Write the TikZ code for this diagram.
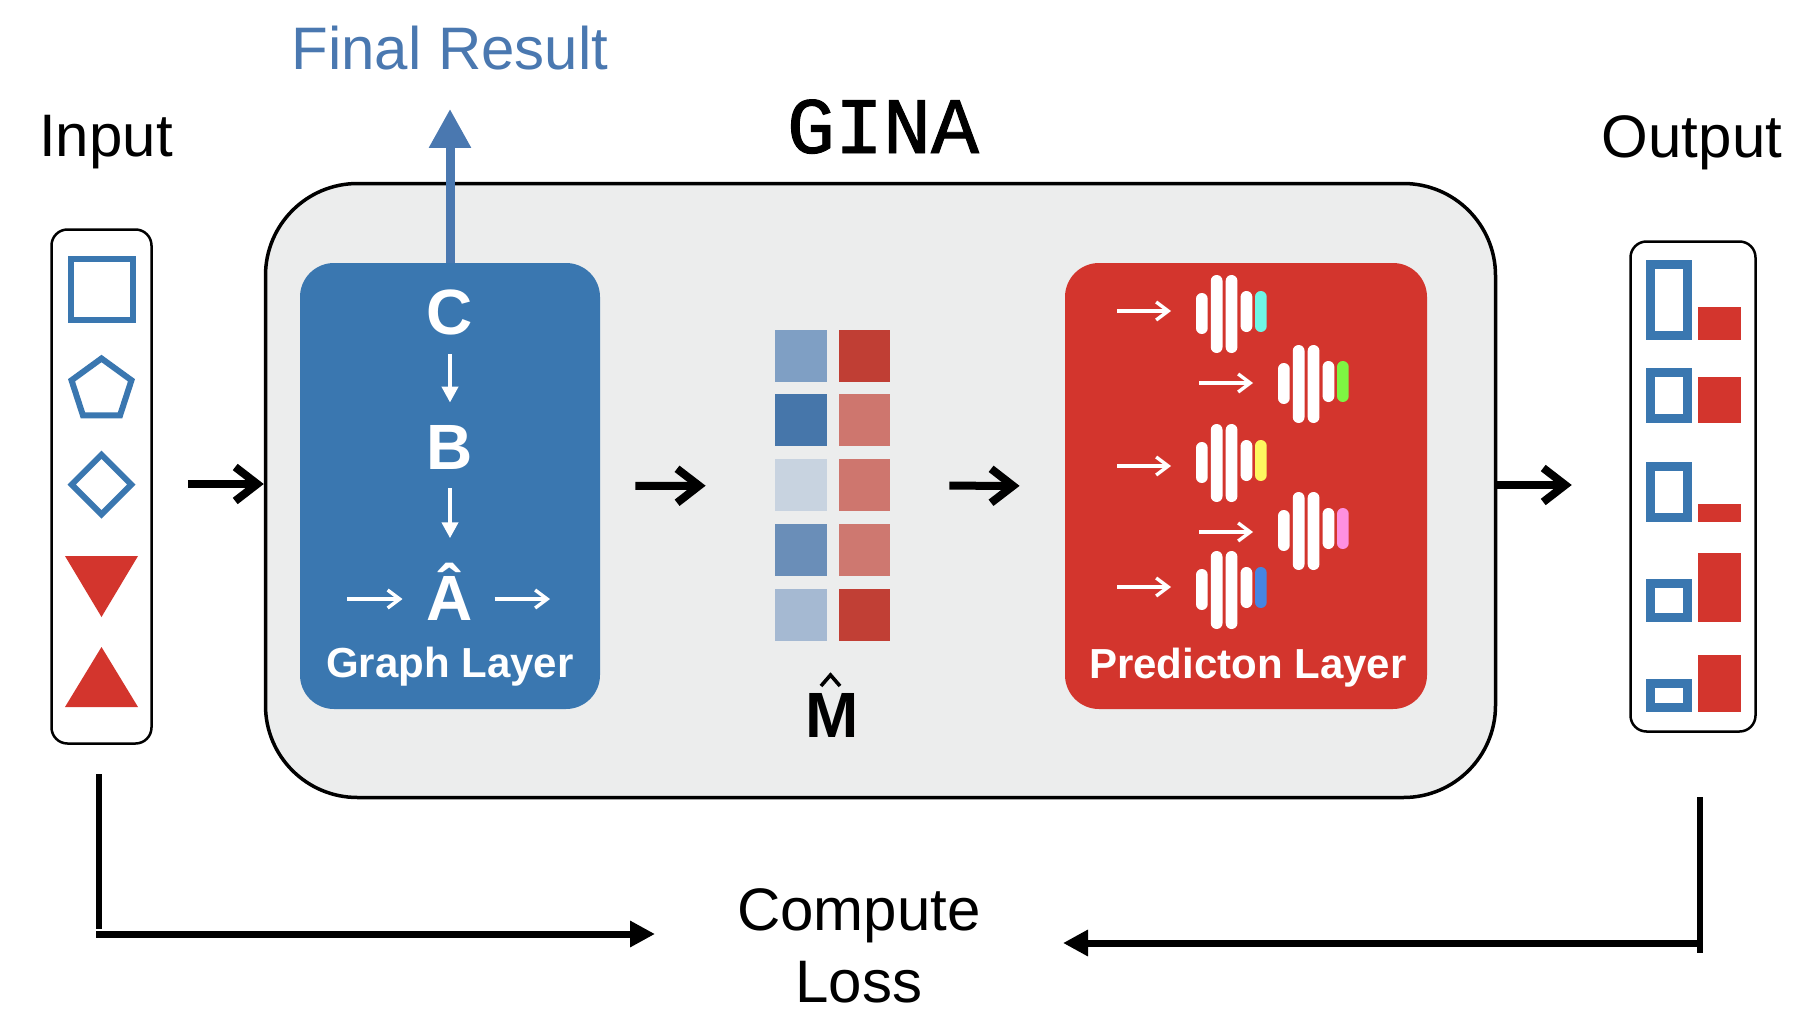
\documentclass[tikz,border=0pt]{standalone}
\usepackage{fontspec}
\setmainfont{Liberation Sans}
\newfontfamily\gmono[FakeBold=1.2]{Liberation Mono}
\usetikzlibrary{arrows.meta,shapes.geometric}
\definecolor{gboxfill}{HTML}{ECEDED}
\definecolor{glblue}{HTML}{3A77B0}
\definecolor{plred}{HTML}{D3352D}
\definecolor{frblue}{HTML}{4A78B0}
\definecolor{ma}{HTML}{7F9FC4}\definecolor{mb}{HTML}{C03E34}
\definecolor{mc}{HTML}{4676AA}\definecolor{md}{HTML}{CE766E}
\definecolor{me}{HTML}{C8D3E0}\definecolor{mf}{HTML}{CE766E}
\definecolor{mg}{HTML}{6A8EB8}\definecolor{mh}{HTML}{CE7870}
\definecolor{mi}{HTML}{A5B9D2}\definecolor{mj}{HTML}{C13F35}
\definecolor{ncyan}{HTML}{6FF5E5}\definecolor{ngreen}{HTML}{7EF542}
\definecolor{nyellow}{HTML}{FEF75F}\definecolor{npink}{HTML}{FE90E0}
\definecolor{nblue}{HTML}{4685E1}
\newcommand\fsz[1]{\fontsize{#1}{#1}\selectfont}
\newcommand\NeuronGroup[3]{%
 \fill[white,rounded corners=2.9pt] (#1,#2-21) rectangle (#1+11.7,#2+20);
 \fill[white,rounded corners=2.9pt] (#1+14.8,#2-39) rectangle (#1+26.5,#2+39);
 \fill[white,rounded corners=2.9pt] (#1+29.7,#2-39) rectangle (#1+41.4,#2+39);
 \fill[white,rounded corners=2.9pt] (#1+44.6,#2-23) rectangle (#1+56.3,#2+18);
 \fill[#3,rounded corners=2.9pt] (#1+59,#2-23) rectangle (#1+70.7,#2+18);
}
\tikzset{
 lbl/.style={inner sep=0pt, anchor=base},
 blackarrow/.style={line width=4pt, -{Straight Barb[length=11pt,width=17pt]}},
 whitearrow/.style={white, line width=1.7pt, -{Straight Barb[length=6pt,width=9pt]}},
 whitedown/.style={white, line width=2pt, -{Triangle[length=8pt,width=8pt]}},
 lossv/.style={line width=2.6pt},
 lossh/.style={line width=3.5pt, -{Triangle[length=12.5pt,width=12.5pt]}},
 outsq/.style={draw=glblue, line width=4.5pt},
}
\begin{document}
\begin{tikzpicture}[x=0.5pt,y=-0.5pt]
\useasboundingbox[fill=white] (0,0) rectangle (1816,1033);

% main box
\node[draw, line width=1.75pt, fill=gboxfill, rounded corners=46pt, inner sep=0,
      minimum width=615pt, minimum height=307pt] (gina) at (880.5,490.5) {};
% layers
\node[fill=glblue, rounded corners=17pt, inner sep=0, minimum width=150pt, minimum height=223pt] (glayer) at (450,486) {};
\node[fill=plred, rounded corners=17pt, inner sep=0, minimum width=181pt, minimum height=223pt] (player) at (1246,486) {};
% input / output boxes
\node[draw, line width=1.25pt, fill=white, rounded corners=8pt, inner sep=0, minimum width=50pt, minimum height=257pt] (inbox) at (101.5,486.5) {};
\node[draw, line width=1.25pt, fill=white, rounded corners=8pt, inner sep=0, minimum width=62.5pt, minimum height=245pt] (outbox) at (1693,486.5) {};

% titles
\node[lbl, font=\fsz{30}, text=frblue] (final) at (450,69) {Final Result};
\node[lbl, font=\fsz{30}] (input) at (106,156) {Input};
\node[lbl, font=\gmono\fsz{40}] (ginat) at (883,153) {GINA};
\node[lbl, font=\fsz{30}] (output) at (1692,157) {Output};

% final result arrow
\draw[frblue, line width=4.5pt, shorten >=19.5pt, -{Triangle[length=19.5pt,width=20pt]}] (glayer.north) -- (final.south);

% input shapes
\draw[glblue, line width=3pt] (71,259) rectangle (133,320);
\node[regular polygon, regular polygon sides=5, draw=glblue, line width=3pt, minimum size=31.5pt, inner sep=0] (pent) at (101.5,390) {};
\node[diamond, aspect=1, draw=glblue, line width=3pt, minimum width=31pt, minimum height=31pt, inner sep=0] (diam) at (101.5,484.5) {};
\fill[plred] (65,556) -- (138,556) -- (101.5,617) -- cycle;
\fill[plred] (65,707) -- (138,707) -- (101.5,647) -- cycle;

% output items
\draw[outsq] (1650.5,264.5) rectangle (1687.5,335.5);
\draw[outsq] (1650.5,372.5) rectangle (1687.5,418.5);
\draw[outsq] (1650.5,466.5) rectangle (1687.5,517.5);
\draw[outsq] (1650.5,583.5) rectangle (1687.5,617.5);
\draw[outsq] (1650.5,683.5) rectangle (1687.5,707.5);
\fill[plred] (1698,307) rectangle (1741,340);
\fill[plred] (1698,377) rectangle (1741,423);
\fill[plred] (1698,504) rectangle (1741,522);
\fill[plred] (1698,553) rectangle (1741,622);
\fill[plred] (1698,655) rectangle (1741,712);

% graph layer content
\node[lbl, font=\bfseries\fsz{32}, text=white] (C) at (450,334) {C};
\node[lbl, font=\bfseries\fsz{32}, text=white] (B) at (450,469) {B};
\node[lbl, font=\bfseries\fsz{32}, text=white] (Ah) at (450,620) {Â};
\node[lbl, font=\bfseries\fsz{21}, text=white] (gl) at (450,677) {Graph Layer};
\draw[whitedown, shorten <=9.5pt, shorten >=11pt] (C.south) -- (B.north);
\draw[whitedown, shorten <=9.5pt, shorten >=12pt] (B.south) -- (B.south |- Ah.north);
\coordinate (gin) at (347,599);
\coordinate (gout) at (550,599);
\draw[whitearrow, shorten >=12pt] (gin) -- (Ah.west |- gin);
\draw[whitearrow, shorten <=10.5pt] (Ah.east |- gout) -- (gout);

% matrix
\node[inner sep=0, minimum width=57.5pt, minimum height=155.5pt] (mat) at (832.5,485.5) {};
\fill[ma] (775,330) rectangle (827,382); \fill[mb] (839,330) rectangle (890,382);
\fill[mc] (775,394) rectangle (827,446); \fill[md] (839,394) rectangle (890,446);
\fill[me] (775,459) rectangle (827,511); \fill[mf] (839,459) rectangle (890,511);
\fill[mg] (775,524) rectangle (827,576); \fill[mh] (839,524) rectangle (890,576);
\fill[mi] (775,589) rectangle (827,641); \fill[mj] (839,589) rectangle (890,641);
\node[lbl, font=\bfseries\fsz{32}] (M) at (832,737) {M};
\draw[line width=1.8pt, line join=miter] (821,686) -- (830.5,675) -- (840,686);

% prediction layer content
\NeuronGroup{1196}{314}{ncyan}
\NeuronGroup{1278}{384}{ngreen}
\NeuronGroup{1196}{463}{nyellow}
\NeuronGroup{1278}{531}{npink}
\NeuronGroup{1196}{590}{nblue}
\coordinate (pa1) at (1117,311); \coordinate (pb1) at (1171,311);
\coordinate (pa2) at (1199,383); \coordinate (pb2) at (1253,383);
\coordinate (pa3) at (1117,466); \coordinate (pb3) at (1171,466);
\coordinate (pa4) at (1199,532); \coordinate (pb4) at (1253,532);
\coordinate (pa5) at (1117,587); \coordinate (pb5) at (1171,587);
\foreach \i in {1,...,5} {\draw[whitearrow] (pa\i) -- (pb\i);}
\node[lbl, font=\bfseries\fsz{21}, text=white] (pl) at (1248,678) {Predicton Layer};

% main flow arrows
\draw[blackarrow, shorten <=17.5pt] ([yshift=1.25pt]inbox.east) -- ([yshift=1.25pt]inbox.east -| gina.west);
\draw[blackarrow, shorten <=17.5pt, shorten >=34.5pt] (glayer.east) -- (mat.west);
\draw[blackarrow, shorten <=29.5pt, shorten >=22.5pt] (mat.east) -- (player.west);
\draw[blackarrow, shorten >=28.75pt] ([yshift=0.75pt]gina.east |- outbox.west) -- ([yshift=0.75pt]outbox.west);

% loss
\node[lbl, font=\fsz{30}] (loss1) at (859,930) {Compute};
\node[lbl, font=\fsz{30}] (loss2) at (859,1002) {Loss};
\coordinate (inB) at (99,929);
\coordinate (inC) at (96,934);
\coordinate (lossL) at (655,934);
\coordinate (outB) at (1700,953);
\coordinate (outC) at (1698,943);
\coordinate (lossR) at (1063,943);
\draw[lossv, shorten <=14.75pt] (inbox.south -| inB) -- (inB);
\draw[lossh] (inC) -- (lossL);
\draw[lossv, shorten <=32.25pt] (outbox.south -| outB) -- (outB);
\draw[lossh] (outC) -- (lossR);
\end{tikzpicture}
\end{document}
